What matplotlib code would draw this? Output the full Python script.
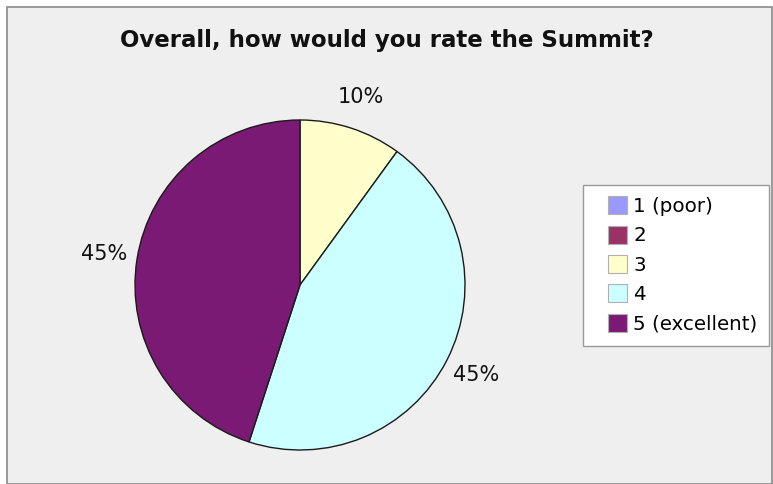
import matplotlib
matplotlib.use("Agg")
import matplotlib.pyplot as plt
from matplotlib.patches import Rectangle, Patch
from matplotlib.legend_handler import HandlerPatch

title = "Overall, how would you rate the Summit?"
categories = ["1 (poor)", "2", "3", "4", "5 (excellent)"]
values = [0, 0, 10, 45, 45]
colors = ["#9999ff", "#993366", "#ffffcc", "#ccffff", "#7b1a74"]

W, H = 773, 484
fig = plt.figure(figsize=(W / 100, H / 100), dpi=100)
fig.patch.set_facecolor("white")
fig.patches.append(Rectangle((7 / W, 0), (772 - 7) / W, (H - 7) / H,
                             transform=fig.transFigure, facecolor="#efefef",
                             edgecolor="#8a8a8a", linewidth=1.2, zorder=-5))

cx, cy, r = 300, 285, 165
ax = fig.add_axes([(cx - r) / W, (H - cy - r) / H, 2 * r / W, 2 * r / H])
ax.set_facecolor("none")
ax.set_zorder(2)

def fmt(p):
    return f"{p:.0f}%" if p > 0.5 else ""

wedges, texts, autotexts = ax.pie(
    values, colors=colors, startangle=90, counterclock=False,
    autopct=fmt, pctdistance=1.2, radius=1,
    wedgeprops=dict(edgecolor="#1a1a1a", linewidth=1.0),
    textprops=dict(fontsize=15, color="#111111"))
ax.set_xlim(-1, 1)
ax.set_ylim(-1, 1)
ax.set_aspect("equal")
ax.axis("off")

fig.text(0.5, 1 - 40 / H, title, ha="center", va="center",
         fontsize=16.5, fontweight="bold", color="#111111")


def square(legend, orig_handle, xdescent, ydescent, width, height, fontsize):
    sw, sh = 13.7, 13.0
    return Rectangle((-xdescent + width - sw, -ydescent + (height - sh) / 2), sw, sh)


handles = [Patch(facecolor=c, edgecolor="#b0b0b0", linewidth=0.8) for c in colors]
leg = fig.legend(handles, categories, loc="upper left",
                 bbox_to_anchor=(583 / W, 1 - 185 / H),
                 frameon=True, fancybox=False, fontsize=14.3, framealpha=1,
                 handlelength=1.63, handleheight=0.9, handletextpad=0.3,
                 labelspacing=0.52, borderpad=0.6, borderaxespad=0,
                 handler_map={Patch: HandlerPatch(patch_func=square)})
leg.get_frame().set_edgecolor("#9a9a9a")
leg.get_frame().set_linewidth(1.0)
leg.get_frame().set_facecolor("white")
leg.set_zorder(3)

fig.savefig("out.png", dpi=100)
